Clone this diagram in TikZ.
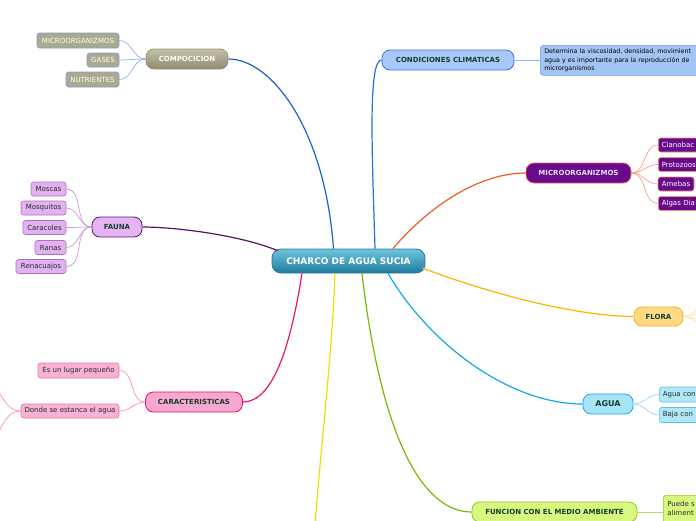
\documentclass[tikz,border=0pt]{standalone}
\usepackage{fontspec}
\setmainfont{DejaVu Sans}
\usetikzlibrary{calc}
\definecolor{txtgreen}{HTML}{123F2E}
\definecolor{lcomp}{HTML}{1D5FD0}
\definecolor{lclim}{HTML}{2A6FE0}
\definecolor{lmicro}{HTML}{F05A28}
\definecolor{lfauna}{HTML}{5A0F6A}
\definecolor{lflora}{HTML}{FFB400}
\definecolor{lagua}{HTML}{14A8E8}
\definecolor{lfunc}{HTML}{7AB800}
\definecolor{lcarac}{HTML}{E8146E}
\definecolor{lyellow}{HTML}{F0DC00}
\definecolor{cborder}{HTML}{287896}
\definecolor{ctop}{HTML}{6EC4DE}
\definecolor{cbot}{HTML}{1E7C9E}
\definecolor{comptop}{HTML}{C4C1A8}
\definecolor{compbot}{HTML}{8F8B70}
\definecolor{compdraw}{HTML}{9A9070}
\definecolor{compleaf}{HTML}{ABA98E}
\definecolor{compleafdraw}{HTML}{7AA0D8}
\definecolor{compsub}{HTML}{88B0F0}
\definecolor{climfill}{HTML}{A8C8F8}
\definecolor{climdraw}{HTML}{3A78D8}
\definecolor{descfill}{HTML}{A3C5F5}
\definecolor{descdraw}{HTML}{6FA0E8}
\definecolor{climsub}{HTML}{90B8F0}
\definecolor{micfill}{HTML}{690A8A}
\definecolor{micdraw}{HTML}{E8605A}
\definecolor{micleafdraw}{HTML}{F09080}
\definecolor{micsub}{HTML}{F8A088}
\definecolor{mictext}{HTML}{EDE0FA}
\definecolor{faunafill}{HTML}{E6B4F2}
\definecolor{faunadraw}{HTML}{5A1A6A}
\definecolor{faunaleaf}{HTML}{E2B2F0}
\definecolor{faunaleafdraw}{HTML}{B070C0}
\definecolor{faunasub}{HTML}{C49AD2}
\definecolor{florafill}{HTML}{FFDA85}
\definecolor{floradraw}{HTML}{F5B020}
\definecolor{florasub}{HTML}{FFE4A0}
\definecolor{aguafill}{HTML}{A8E4F8}
\definecolor{aguadraw}{HTML}{20A8E0}
\definecolor{agualeaf}{HTML}{B0E8F8}
\definecolor{agualeafdraw}{HTML}{60C0F0}
\definecolor{aguasub}{HTML}{90D8F8}
\definecolor{caracfill}{HTML}{F8A8D0}
\definecolor{caracdraw}{HTML}{E0106A}
\definecolor{caracleaf}{HTML}{F8B2D4}
\definecolor{caracleafdraw}{HTML}{F070A8}
\definecolor{caracsub}{HTML}{F890C0}
\definecolor{funcfill}{HTML}{D8F880}
\definecolor{funcdraw}{HTML}{90C820}
\definecolor{funcsub}{HTML}{B0E060}
\definecolor{darktxt}{HTML}{2A2A2A}
\tikzset{
  mainbox/.style={draw, rounded corners=8pt, line width=0.8pt, inner sep=0pt,
    font=\fontsize{7}{8}\selectfont\bfseries, text=txtgreen, minimum height=20pt},
  leaf/.style={draw, rounded corners=2.5pt, line width=0.6pt, inner sep=0pt,
    font=\fontsize{7}{8}\selectfont, minimum height=14pt},
  openleaf/.style={leaf, anchor=west, text width=90pt, inner xsep=3.5pt, align=left},
  link/.style={line width=1.2pt},
  sublink/.style={line width=0.7pt},
}
\begin{document}
\begin{tikzpicture}[x=1pt,y=-1pt]
\useasboundingbox (0,0) rectangle (696,520);

% ---------------- nodes ----------------
\node[rounded corners=9pt, line width=0.8pt, top color=ctop, bottom color=cbot, draw=cborder,
  minimum width=153pt, minimum height=24pt, inner sep=0pt, text=white,
  font=\fontsize{9}{10}\selectfont\bfseries] (c) at (348.5,261) {CHARCO DE AGUA SUCIA};

% COMPOCICION
\node[mainbox, top color=comptop, bottom color=compbot, draw=compdraw, text=white,
  minimum width=82pt] (comp) at (187,59) {COMPOCICION};
\node[leaf, fill=compleaf, draw=compleafdraw, text=white, minimum width=82pt, minimum height=15pt] (cm1) at (78,40.5) {MICROORGANIZMOS};
\node[leaf, fill=compleaf, draw=compleafdraw, text=white, minimum width=32pt] (cm2) at (103,60) {GASES};
\node[leaf, fill=compleaf, draw=compleafdraw, text=white, minimum width=53pt, minimum height=15pt] (cm3) at (92.5,79.5) {NUTRIENTES};

% CONDICIONES CLIMATICAS
\node[mainbox, fill=climfill, draw=climdraw, minimum width=132pt] (clim) at (448,60) {CONDICIONES CLIMATICAS};
\node[draw=descdraw, fill=descfill, rounded corners=3pt, line width=0.6pt, anchor=north west,
  text width=200pt, inner xsep=4pt, inner ysep=3pt, align=left, minimum height=30pt,
  font=\fontsize{6.3}{8.3}\selectfont, text=black] (desc) at (540,45)
  {Determina la viscosidad, densidad, movimient\\agua y es importante para la reproducción de\\microrganismos};

% MICROORGANIZMOS
\node[mainbox, fill=micfill, draw=micdraw, text=mictext, minimum width=105pt] (mic) at (578.5,173) {MICROORGANIZMOS};
\node[openleaf, fill=micfill, draw=micleafdraw, text=white] (m1) at (658,145) {Cianobac};
\node[openleaf, fill=micfill, draw=micleafdraw, text=white] (m2) at (658,164.5) {Protozoos};
\node[leaf, fill=micfill, draw=micleafdraw, text=white, minimum width=36pt] (m3) at (676,184) {Amebas};
\node[openleaf, fill=micfill, draw=micleafdraw, text=white] (m4) at (658,203.5) {Algas Dia};

% FAUNA
\node[mainbox, fill=faunafill, draw=faunadraw, minimum width=50pt] (fauna) at (117,227) {FAUNA};
\node[leaf, fill=faunaleaf, draw=faunaleafdraw, text=darktxt, minimum width=35pt] (f1) at (48.5,189) {Moscas};
\node[leaf, fill=faunaleaf, draw=faunaleafdraw, text=darktxt, minimum width=45pt] (f2) at (43.5,208) {Mosquitos};
\node[leaf, fill=faunaleaf, draw=faunaleafdraw, text=darktxt, minimum width=43pt] (f3) at (44.5,227.5) {Caracoles};
\node[leaf, fill=faunaleaf, draw=faunaleafdraw, text=darktxt, minimum width=31pt] (f4) at (50.5,247.5) {Ranas};
\node[leaf, fill=faunaleaf, draw=faunaleafdraw, text=darktxt, minimum width=50pt] (f5) at (41,266.5) {Renacuajos};

% FLORA
\node[mainbox, fill=florafill, draw=floradraw, minimum width=49pt, minimum height=19pt] (flora) at (658.5,316.5) {FLORA};
\coordinate (fl1) at (720,292);
\coordinate (fl2) at (720,308);
\coordinate (fl3) at (720,326);
\coordinate (fl4) at (720,342);

% AGUA
\node[mainbox, fill=aguafill, draw=aguadraw, minimum width=50pt, font=\fontsize{8}{9}\selectfont\bfseries] (agua) at (608,404) {AGUA};
\node[openleaf, fill=agualeaf, draw=agualeafdraw, text=darktxt, minimum height=15pt] (a1) at (659,394.5) {Agua con};
\node[openleaf, fill=agualeaf, draw=agualeafdraw, text=darktxt, minimum height=15pt] (a2) at (659,415) {Baja con};

% CARACTERISTICAS
\node[mainbox, fill=caracfill, draw=caracdraw, minimum width=97pt] (carac) at (194,402) {CARACTERISTICAS};
\node[leaf, fill=caracleaf, draw=caracleafdraw, text=darktxt, minimum width=81pt, minimum height=15pt] (k1) at (78.5,370.5) {Es un lugar pequeño};
\node[leaf, fill=caracleaf, draw=caracleafdraw, text=darktxt, minimum width=98pt] (k2) at (70,411) {Donde se estanca el agua};
\coordinate (k21) at (-20,378);
\coordinate (k22) at (-20,446);

% FUNCION
\node[mainbox, fill=funcfill, draw=funcdraw, minimum width=165pt] (func) at (554.5,512) {FUNCION CON EL MEDIO AMBIENTE};
\node[draw=funcdraw, fill=funcfill, rounded corners=3pt, line width=0.6pt, anchor=north west,
  text width=60pt, inner xsep=4pt, inner ysep=5.5pt, align=left,
  font=\fontsize{7}{9}\selectfont, text=darktxt] (fd) at (663,495) {Puede s\\aliment\\\mbox{}\\\mbox{}};

% yellow off-page branch
\coordinate (yend) at (314,540);

% ---------------- connectors ----------------
\draw[link, lcomp] ($(c.north)+(-15,0)$) .. controls (325,130) and (272,59) .. (comp.east);
\draw[link, lclim] ($(c.north)+(26.5,0)$) .. controls (372,150) and (368,60) .. (clim.west);
\draw[link, lmicro] ($(c.north)+(44.5,0)$) .. controls (430,205) and (480,173) .. (mic.west);
\draw[link, lfauna] ($(c.north west)+(6,2)$) .. controls (240,235) and (175,227) .. (fauna.east);
\draw[link, lflora] ($(c.east)+(-3,7)$) .. controls (480,290) and (570,316) .. (flora.west);
\draw[link, lagua] ($(c.south)+(39.5,0)$) .. controls (430,345) and (510,404) .. (agua.west);
\draw[link, lfunc] ($(c.south)+(13.5,0)$) .. controls (380,430) and (420,512) .. (func.west);
\draw[link, lcarac] ($(c.south)+(-46.5,0)$) .. controls (290,350) and (272,402) .. (carac.east);
\draw[link, lyellow] ($(c.south)+(-13.5,0)$) .. controls (332,360) and (320,450) .. (yend);

% sub-links
\foreach \n in {cm1,cm2,cm3}
  \draw[sublink, compsub] (\n.east) to[out=0,in=180] (comp.west);
\draw[sublink, climsub] (clim.east) -- (desc.west |- clim.east);
\foreach \n in {m1,m2,m3,m4}
  \draw[sublink, micsub] (mic.east) to[out=0,in=180] (\n.west);
\foreach \n in {f1,f2,f3,f4,f5}
  \draw[sublink, faunasub] (\n.east) to[out=0,in=180] (fauna.west);
\foreach \n in {fl1,fl2,fl3,fl4}
  \draw[sublink, florasub] (flora.east) to[out=0,in=180] (\n);
\foreach \n in {a1,a2}
  \draw[sublink, aguasub] (agua.east) to[out=0,in=180] (\n.west);
\foreach \n in {k1,k2}
  \draw[sublink, caracsub] (\n.east) to[out=0,in=180] (carac.west);
\foreach \n in {k21,k22}
  \draw[sublink, caracsub] (k2.west) to[out=180,in=0] (\n);
\draw[sublink, funcsub] (func.east) -- (fd.west |- func.east);
\end{tikzpicture}
\end{document}
